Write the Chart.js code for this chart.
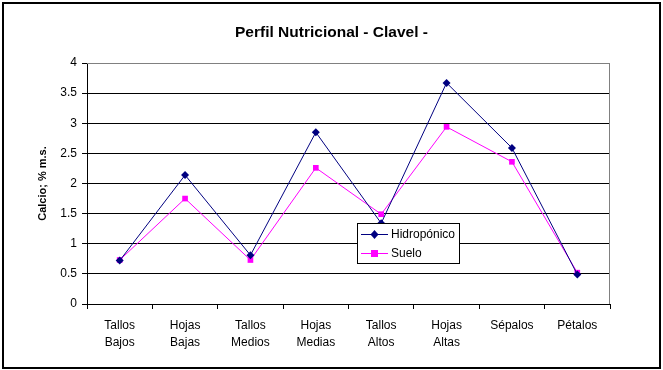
<!DOCTYPE html>
<html lang="es">
<head>
  <meta charset="UTF-8" />
  <title>Perfil Nutricional - Clavel -</title>
  <style>
    html, body {
      margin: 0;
      padding: 0;
      background: #fff;
    }
    #wrap {
      width: 663px;
      height: 370px;
    }
  </style>
</head>
<body>
<div id="wrap"><canvas id="chart" width="663" height="370"></canvas></div>

<script src="https://cdn.jsdelivr.net/npm/chart.js"></script>
<script>
  // Categories (plant parts), two lines each
  const categories = [
    ['Tallos', 'Bajos'], ['Hojas', 'Bajas'], ['Tallos', 'Medios'], ['Hojas', 'Medias'],
    ['Tallos', 'Altos'], ['Hojas', 'Altas'], 'Sépalos', 'Pétalos'
  ];
  // Calcio (% m.s.)
  const hidroponico = [0.72, 2.14, 0.81, 2.85, 1.34, 3.67, 2.59, 0.49];
  const suelo = [0.73, 1.75, 0.73, 2.26, 1.49, 2.94, 2.36, 0.52];

  const chartTitle = 'Perfil Nutricional - Clavel -';
  const FONT = 'Arial, "Liberation Sans", sans-serif';

  // title centred on the whole picture, frame around the chart, gray plot border (top / right)
  const framePlugin = {
    id: 'frame',
    afterDraw(chart) {
      const c = chart.ctx;
      const a = chart.chartArea;
      c.save();
      c.fillStyle = '#000';
      c.font = 'bold 15.5px ' + FONT;
      c.textAlign = 'center';
      c.textBaseline = 'middle';
      c.fillText(chartTitle, chart.width / 2, 33);

      c.strokeStyle = '#808080';
      c.lineWidth = 1;
      c.beginPath();
      c.moveTo(a.left, a.top + 0.5);
      c.lineTo(a.right - 0.5, a.top + 0.5);
      c.lineTo(a.right - 0.5, a.bottom);
      c.stroke();
      c.strokeStyle = '#000';
      c.lineWidth = 2;
      c.strokeRect(3, 3, chart.width - 6, chart.height - 5);
      c.restore();
    }
  };

  // legend box drawn inside the plot area
  const legendBox = {
    id: 'legendBox',
    afterDatasetsDraw(chart) {
      const c = chart.ctx;
      const a = chart.chartArea;
      const x = a.left + 270, y = a.top + 160, w = 102, h = 40;
      c.save();
      c.fillStyle = '#fff';
      c.fillRect(x, y, w, h);
      c.strokeStyle = '#000';
      c.lineWidth = 1;
      c.strokeRect(x + 0.5, y + 0.5, w, h);
      c.font = '12px ' + FONT;
      c.textBaseline = 'middle';
      chart.data.datasets.forEach((ds, i) => {
        const ly = y + 11 + i * 19;
        c.strokeStyle = ds.borderColor;
        c.beginPath();
        c.moveTo(x + 4, ly + 0.5);
        c.lineTo(x + 31, ly + 0.5);
        c.stroke();
        c.fillStyle = ds.backgroundColor;
        if (ds.pointStyle === 'rect') {
          c.fillRect(x + 14, ly - 3, 7, 7);
        } else {
          c.beginPath();
          c.moveTo(x + 17.5, ly - 4);
          c.lineTo(x + 21.5, ly + 0.5);
          c.lineTo(x + 17.5, ly + 5);
          c.lineTo(x + 13.5, ly + 0.5);
          c.closePath();
          c.fill();
        }
        c.fillStyle = '#000';
        c.fillText(ds.label, x + 34, ly + 1);
      });
      c.restore();
    }
  };

  new Chart(document.getElementById('chart'), {
    type: 'line',
    data: {
      labels: categories,
      datasets: [{
        label: 'Hidropónico',
        data: hidroponico,
        borderColor: '#000080',
        backgroundColor: '#000080',
        borderWidth: 1,
        pointStyle: 'rectRot',
        pointRadius: 4,
        pointBorderWidth: 0,
        tension: 0
      }, {
        label: 'Suelo',
        data: suelo,
        borderColor: '#ff00ff',
        backgroundColor: '#ff00ff',
        borderWidth: 1,
        pointStyle: 'rect',
        pointRadius: 4,
        pointBorderWidth: 0,
        tension: 0
      }]
    },
    options: {
      responsive: false,
      animation: false,
      devicePixelRatio: 1,
      layout: { padding: { left: 30, right: 53, top: 63, bottom: 0 } },
      plugins: {
        legend: { display: false },
        tooltip: { enabled: false },
        title: { display: false }
      },
      scales: {
        x: {
          offset: true,
          afterFit(s) { s.height = 66; },
          grid: {
            offset: true,
            drawOnChartArea: false,
            drawTicks: true,
            tickLength: 5,
            color: '#000'
          },
          border: { color: '#000', width: 1 },
          ticks: {
            color: '#000',
            font: { family: FONT, size: 12, lineHeight: 1.4 },
            maxRotation: 0,
            autoSkip: false,
            padding: 8
          }
        },
        y: {
          min: 0,
          max: 4,
          afterFit(s) { s.width = 57; },
          grid: {
            color: ctx => (ctx.tick && ctx.tick.value === 4 ? '#808080' : '#000'),
            tickColor: '#000',
            tickLength: 5,
            lineWidth: 1
          },
          border: { color: '#000', width: 1 },
          ticks: {
            stepSize: 0.5,
            color: '#000',
            font: { family: FONT, size: 12 },
            padding: 5,
            callback: v => String(v)
          },
          title: {
            display: true,
            text: 'Calcio; % m.s.',
            color: '#000',
            font: { family: FONT, size: 11, weight: 'bold' },
            padding: { top: 6, bottom: 0 }
          }
        }
      }
    },
    plugins: [framePlugin, legendBox]
  });
</script>
</body>
</html>
